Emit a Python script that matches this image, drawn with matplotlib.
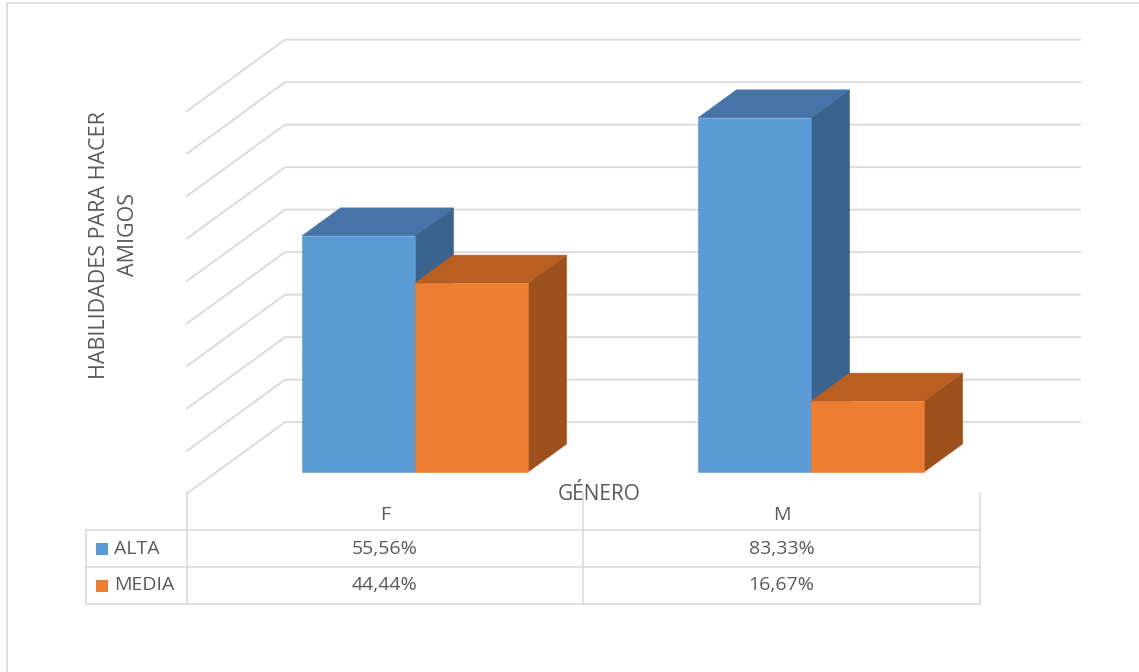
import matplotlib
matplotlib.use("Agg")
import matplotlib.pyplot as plt
from matplotlib.patches import Polygon, Rectangle

# datos
generos = ["F", "M"]
series = ["ALTA", "MEDIA"]
alta = [55.56, 83.33]
media = [44.44, 16.67]
niveles = [0, 10, 20, 30, 40, 50, 60, 70, 80, 90]

titulo_y = ["HABILIDADES PARA HACER", "AMIGOS"]
titulo_x = "GÉNERO"

# colores (frente, arriba, costado)
col_alta = ("#5B9BD5", "#4674A6", "#3A648D")
col_media = ("#ED7D31", "#BA5F22", "#9E501C")
gris_txt = "#595959"
gris_lin = "#D9D9D9"

plt.rcParams["font.family"] = ["Open Sans", "DejaVu Sans"]

W, H = 1139, 672
fig = plt.figure(figsize=(W / 100, H / 100), dpi=100)
fig.patch.set_facecolor("white")

# eje principal: x en pixeles, y en porcentaje (0 en la base frontal de las barras)
PX = 4.25
ax = fig.add_axes([0, 0, 1, 1])
ax.set_xlim(0, W)
ax.set_ylim(-(H - 472) / PX, 472 / PX)
ax.axis("off")

# proyeccion oblicua: t = profundidad en unidades de barra
DX, DY = 38.5, 28 / PX


def pt(x, v, t):
    return (x + t * DX, v + t * DY)


# paredes con lineas de division
x_izq, x_der = 216.5, 1011.5
t_frente, t_fondo = -0.77, 1.78
for n in niveles:
    a = pt(x_izq, n, t_frente)
    b = pt(x_izq, n, t_fondo)
    c = pt(x_der, n, t_fondo)
    ax.plot([a[0], b[0], c[0]], [a[1], b[1], c[1]], color=gris_lin, lw=1.3,
            zorder=1, solid_joinstyle="miter")


def barra(x0, w, h, cols):
    frente = [pt(x0, 0, 0), pt(x0 + w, 0, 0), pt(x0 + w, h, 0), pt(x0, h, 0)]
    arriba = [pt(x0, h, 0), pt(x0 + w, h, 0), pt(x0 + w, h, 1), pt(x0, h, 1)]
    costado = [pt(x0 + w, 0, 0), pt(x0 + w, 0, 1), pt(x0 + w, h, 1), pt(x0 + w, h, 0)]
    for poly, c in zip([costado, arriba, frente], [cols[2], cols[1], cols[0]]):
        ax.add_patch(Polygon(poly, closed=True, facecolor=c, edgecolor=c,
                             lw=0.4, zorder=3))


ancho = 113
for i in range(len(generos)):
    x0 = 302 + i * 396
    barra(x0, ancho, alta[i], col_alta)
    barra(x0 + ancho, ancho, media[i], col_media)

# capa en pixeles para titulos y tabla de datos
ov = fig.add_axes([0, 0, 1, 1], facecolor="none")
ov.set_xlim(0, W)
ov.set_ylim(H, 0)
ov.axis("off")

# borde del grafico
ov.plot([7, 7, W], [H, 3, 3], color=gris_lin, lw=1.2)

ov.text(100, 245, titulo_y[0], rotation=90, ha="center", va="center",
        fontsize=15.5, color=gris_txt)
ov.text(129, 234, titulo_y[1], rotation=90, ha="center", va="center",
        fontsize=15.5, color=gris_txt)
ov.text(599, 494, titulo_x, ha="center", va="center", fontsize=15, color=gris_txt)

# tabla de datos
xs = [86, 187, 583, 980]
ys = [530, 567, 604]
for y in ys:
    ov.plot([xs[0], xs[-1]], [y, y], color=gris_lin, lw=1.1)
ov.plot([xs[0], xs[0]], [ys[0], ys[-1]], color=gris_lin, lw=1.1)
for x in xs[1:]:
    ov.plot([x, x], [493, ys[-1]], color=gris_lin, lw=1.1)

for i, g in enumerate(generos):
    cx = (xs[i + 1] + xs[i + 2]) / 2
    ov.text(cx, 515, g, ha="center", va="center", fontsize=14, color=gris_txt)
    for j, vals in enumerate([alta, media]):
        etiqueta = f"{vals[i]:.2f}%".replace(".", ",")
        ov.text(cx, (ys[j] + ys[j + 1]) / 2, etiqueta, ha="center", va="center",
                fontsize=14, color=gris_txt)

for j, (s, cols) in enumerate(zip(series, [col_alta, col_media])):
    cy = (ys[j] + ys[j + 1]) / 2
    ov.add_patch(Rectangle((96, cy - 6), 12, 12, facecolor=cols[0], edgecolor="none"))
    ov.text(114, cy, s, ha="left", va="center", fontsize=14, color=gris_txt)

fig.savefig("out.png", dpi=100, facecolor="white")
